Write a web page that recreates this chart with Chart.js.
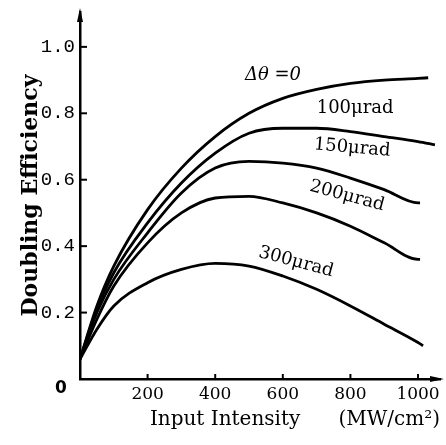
<!DOCTYPE html>
<html>
<head>
<meta charset="utf-8">
<script src="https://cdn.jsdelivr.net/npm/chart.js@4.4.0/dist/chart.umd.min.js"></script>
<style>
  html, body { margin: 0; padding: 0; background: #fff; }
  #wrap { width: 446px; height: 445px; }
</style>
</head>
<body>
<div id="wrap"><canvas id="chart"></canvas></div>
<script>
// Input intensity (MW/cm²) where the curves were read
const INTENSITY = [0, 50, 100, 200, 300, 400, 500, 600, 700, 800, 900, 1000];

// doubling efficiency for each beam divergence Δθ
const EFF_0 = [0.06, 0.22, 0.34, 0.51, 0.635, 0.73, 0.80, 0.845, 0.872, 0.89, 0.90, 0.905];
const EFF_100 = [0.06, 0.21, 0.32, 0.47, 0.59, 0.68, 0.74, 0.755, 0.755, 0.745, 0.73, 0.715];
const EFF_150 = [0.06, 0.20, 0.30, 0.44, 0.56, 0.635, 0.655, 0.65, 0.635, 0.605, 0.57, 0.53];
const EFF_200 = [0.06, 0.18, 0.28, 0.41, 0.50, 0.545, 0.55, 0.53, 0.50, 0.46, 0.41, 0.36];
const EFF_300 = [0.06, 0.15, 0.22, 0.29, 0.33, 0.348, 0.34, 0.31, 0.27, 0.22, 0.165, 0.11];

// the curves run a little past 1000 on the right
const TAIL_X = [1030, 1050, 1006, 1006, 1015];
const TAIL_Y = [0.907, 0.705, 0.53, 0.36, 0.10];

const CURVE_LABELS = ['Δθ =0', '100μrad', '150μrad', '200μrad', '300μrad'];
const X_TICKS = [200, 400, 600, 800, 1000];
const Y_TICKS = [0, 0.2, 0.4, 0.6, 0.8, 1.0];

// where the curve names sit, in data units, and their tilt
const LABEL_AT = [
  { x: 571, y: 0.913, rot: 0, italic: true },
  { x: 814, y: 0.816, rot: 0 },
  { x: 805, y: 0.696, rot: 5 },
  { x: 790, y: 0.551, rot: 15 },
  { x: 639, y: 0.352, rot: 15 },
];

const SERIES = [EFF_0, EFF_100, EFF_150, EFF_200, EFF_300];

function toPoints(values, i) {
  const pts = values.map((v, k) => ({ x: INTENSITY[k], y: v }));
  pts.push({ x: TAIL_X[i], y: TAIL_Y[i] });
  return pts;
}

const datasets = SERIES.map((vals, i) => ({
  label: CURVE_LABELS[i],
  data: toPoints(vals, i),
  borderColor: '#000',
  borderWidth: 2.8,
  pointRadius: 0,
  fill: false,
  cubicInterpolationMode: 'monotone',
}));

// inward tick marks, axis arrows, the shared origin "0" and the curve names
const decorations = {
  id: 'decorations',
  afterDraw(chart) {
    const { ctx, chartArea, scales } = chart;
    const xs = scales.x, ys = scales.y;
    ctx.save();
    ctx.strokeStyle = '#000';
    ctx.fillStyle = '#000';
    ctx.lineWidth = 2;
    Y_TICKS.forEach(v => {
      if (v === 0) return;
      const y = ys.getPixelForValue(v);
      ctx.beginPath();
      ctx.moveTo(chartArea.left, y);
      ctx.lineTo(chartArea.left + 7, y);
      ctx.stroke();
    });
    X_TICKS.forEach(v => {
      const x = xs.getPixelForValue(v);
      ctx.beginPath();
      ctx.moveTo(x, chartArea.bottom);
      ctx.lineTo(x, chartArea.bottom - 5);
      ctx.stroke();
    });
    // arrow heads
    ctx.beginPath();
    ctx.moveTo(chartArea.left, chartArea.top - 4);
    ctx.lineTo(chartArea.left - 3, chartArea.top + 10);
    ctx.lineTo(chartArea.left + 3, chartArea.top + 10);
    ctx.closePath();
    ctx.fill();
    ctx.beginPath();
    ctx.moveTo(chartArea.right + 4, chartArea.bottom);
    ctx.lineTo(chartArea.right - 10, chartArea.bottom - 3);
    ctx.lineTo(chartArea.right - 10, chartArea.bottom + 3);
    ctx.closePath();
    ctx.fill();

    ctx.textAlign = 'center';
    ctx.textBaseline = 'middle';
    ctx.font = 'bold 17px "DejaVu Sans"';
    ctx.fillText('0', chartArea.left - 19, ys.getPixelForValue(0) + 10);

    LABEL_AT.forEach((p, i) => {
      ctx.save();
      ctx.translate(xs.getPixelForValue(p.x), ys.getPixelForValue(p.y));
      ctx.rotate(p.rot * Math.PI / 180);
      ctx.font = (p.italic ? 'italic ' : '') + '18px "DejaVu Serif"';
      ctx.fillText(CURVE_LABELS[i], 0, 0);
      ctx.restore();
    });
    ctx.restore();
  },
};

new Chart(document.getElementById('chart'), {
  type: 'line',
  data: { datasets },
  plugins: [decorations],
  options: {
    responsive: true,
    maintainAspectRatio: false,
    animation: false,
    layout: { padding: { top: 12, right: 6, left: 0, bottom: 0 } },
    plugins: { legend: { display: false }, tooltip: { enabled: false } },
    scales: {
      x: {
        type: 'linear',
        min: 0,
        max: 1065,
        afterBuildTicks: s => { s.ticks = X_TICKS.map(v => ({ value: v })); },
        afterFit: s => { s.height = 66; },
        border: { display: true, color: '#000', width: 2.5 },
        grid: { display: true, drawOnChartArea: false, drawTicks: false },
        ticks: {
          color: '#000',
          padding: 5,
          maxRotation: 0,
          callback: v => String(v),
          font: { family: '"DejaVu Serif"', size: 17 },
        },
        title: {
          display: true,
          text: 'Input Intensity      (MW/cm²)',
          align: 'end',
          color: '#000',
          font: { family: '"DejaVu Serif"', size: 20 },
          padding: { top: 0, bottom: 13 },
        },
      },
      y: {
        min: 0,
        max: 1.105,
        afterBuildTicks: s => { s.ticks = Y_TICKS.map(v => ({ value: v })); },
        afterFit: s => { s.width = 80; s.paddingTop = 0; s.paddingBottom = 0; },
        border: { display: true, color: '#000', width: 2.5 },
        grid: { display: true, drawOnChartArea: false, drawTicks: false },
        ticks: {
          color: '#000',
          padding: 5,
          callback: v => (v === 0 ? '' : v.toFixed(1)),
          font: { family: '"Liberation Mono"', size: 19 },
        },
        title: {
          display: true,
          text: 'Doubling Efficiency',
          color: '#000',
          font: { family: '"DejaVu Serif"', size: 22, weight: 'bold' },
          padding: { top: 18, bottom: 0 },
        },
      },
    },
  },
});
</script>
</body>
</html>
